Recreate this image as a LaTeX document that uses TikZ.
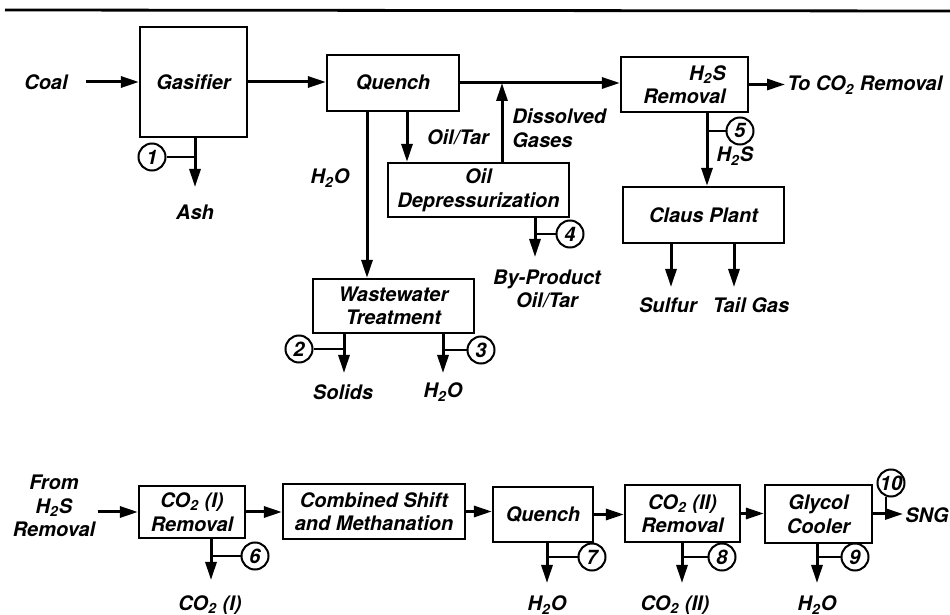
\documentclass[tikz,border=0pt]{standalone}
\usepackage{fontspec}
\setmainfont{TeX Gyre Heros}
\usetikzlibrary{arrows.meta,calc}

\begin{document}
\begin{tikzpicture}[x=0.5pt, y=-0.5pt, >={Triangle[length=9pt,width=5.5pt]},
  font=\fontsize{10}{11.8}\selectfont\bfseries\itshape,
  box/.style={draw, line width=1.1pt, inner sep=0pt, align=center},
  flow/.style={->, line width=1.5pt},
  tick/.style={line width=1pt},
  num/.style={draw, circle, line width=1pt, inner sep=0pt, minimum size=13.5pt,
    font=\fontsize{10}{10}\selectfont\bfseries\itshape},
  lbl/.style={inner sep=1pt, align=center}]
  \useasboundingbox (0,0) rectangle (950,615);
  \draw[line width=1.4pt] (5,10) -- (950,11);

  % --- fila superior: gasificacion ---
  \node[box, minimum width=53.5pt, minimum height=55pt] (gas) at (193.5,82) {Gasifier};
  \node[box, minimum width=66pt, minimum height=28pt] (qu) at (393,83) {Quench};
  \node[box, minimum width=63.5pt, minimum height=27.5pt, align=right] (hs) at (684.5,84.5) {H\textsubscript{2}S\\Removal};
  \node[box, minimum width=90.5pt, minimum height=27pt] (od) at (478.5,190) {Oil\\Depressurization};
  \node[box, minimum width=80.5pt, minimum height=27pt] (ww) at (393.5,306) {Wastewater\\Treatment};
  \node[box, minimum width=80.5pt, minimum height=28pt] (cl) at (703.5,215) {Claus Plant};

  \node[lbl] (coal) at (46,82) {Coal};
  \node[lbl, anchor=west] (toco) at (785,85) {To CO\textsubscript{2} Removal};

  \draw[flow, shorten <=8pt] (coal) -- (gas);
  \draw[flow] (gas.east) -- (gas.east -| qu.west);
  \draw[flow] (qu.east) -- (qu.east -| hs.west);
  \draw[flow] (hs.east) -- (hs.east -| toco.west);

  % salidas del quench
  \coordinate (xw) at (367,0);
  \coordinate (xo) at (407,0);
  \coordinate (xd) at (502,0);
  \draw[flow] (qu.south -| xw) -- (ww.north -| xw);
  \draw[flow] (qu.south -| xo) -- (od.north -| xo);
  \draw[flow] (od.north -| xd) -- (qu.east -| xd);
  \node[lbl] (qh2o) at (330,178) {H\textsubscript{2}O};
  \node[lbl] (oiltar) at (458,137) {Oil/Tar};
  \node[lbl, anchor=west, align=left] (dgas) at (510,128.5) {Dissolved\\Gases};

  % corriente 1
  \coordinate (e1) at (195,187);
  \draw[flow] (gas.south -| e1) -- (e1);
  \node[lbl] (ash) at (195,212) {Ash};
  \node[num] (n1) at (152,157) {1};
  \draw[tick] (n1) -- (n1 -| e1);

  % corrientes 2 y 3
  \coordinate (e2) at (344,373);
  \coordinate (e3) at (443,373);
  \draw[flow] (ww.south -| e2) -- (e2);
  \draw[flow] (ww.south -| e3) -- (e3);
  \node[lbl] (sol) at (343,392) {Solids};
  \node[lbl] (wwh2o) at (443,392) {H\textsubscript{2}O};
  \node[num] (n2) at (299,349) {2};
  \node[num] (n3) at (481,350) {3};
  \draw[tick] (n2) -- (n2 -| e2);
  \draw[tick] (n3) -- (n3 -| e3);

  % corriente 4
  \coordinate (e4) at (535,257);
  \draw[flow] (od.south -| e4) -- (e4);
  \node[lbl] (byp) at (547,289) {By-Product\\Oil/Tar};
  \node[num] (n4) at (570,234) {4};
  \draw[tick] (n4) -- (n4 -| e4);

  % corriente 5 y Claus
  \coordinate (xs) at (707,0);
  \draw[flow] (hs.south -| xs) -- (cl.north -| xs);
  \node[num] (n5) at (740,131) {5};
  \draw[tick] (n5) -- (n5 -| xs);
  \node[lbl] (h2s) at (735,156) {H\textsubscript{2}S};
  \coordinate (esul) at (671,287);
  \coordinate (etg) at (734,287);
  \draw[flow] (cl.south -| esul) -- (esul);
  \draw[flow] (cl.south -| etg) -- (etg);
  \node[lbl] (sul) at (668,305) {Sulfur};
  \node[lbl] (tg) at (751,305) {Tail Gas};

  % --- fila inferior: metanacion ---
  \node[lbl] (from) at (54,506) {From\\H\textsubscript{2}S\\Removal};
  \node[box, minimum width=53pt, minimum height=26pt] (c1) at (192,512) {CO\textsubscript{2} (I)\\Removal};
  \node[box, minimum width=91pt, minimum height=27.5pt] (cs) at (374,511.5) {Combined Shift\\and Methanation};
  \node[box, minimum width=50pt, minimum height=27.5pt] (q2) at (543,514.5) {Quench};
  \node[box, minimum width=57.5pt, minimum height=28.5pt] (c2) at (682.5,513.5) {CO\textsubscript{2} (II)\\Removal};
  \node[box, minimum width=53.5pt, minimum height=29pt] (gc) at (818.5,514) {Glycol\\Cooler};
  \node[lbl, anchor=west] (sng) at (903,515) {SNG};

  \draw[flow] (from.east |- c1.west) -- (c1.west);
  \draw[flow] (c1.east) -- (c1.east -| cs.west);
  \draw[flow] (cs.east) -- (cs.east -| q2.west);
  \draw[flow] (q2.east) -- (q2.east -| c2.west);
  \draw[flow] (c2.east) -- (c2.east -| gc.west);
  \draw[flow] (gc.east) -- (gc.east -| sng.west);

  % corrientes 6 a 10
  \coordinate (e6) at (211,580);
  \coordinate (e7) at (547,583);
  \coordinate (e8) at (682,583);
  \coordinate (e9) at (817,583);
  \draw[flow] (c1.south -| e6) -- (e6);
  \draw[flow] (q2.south -| e7) -- (e7);
  \draw[flow] (c2.south -| e8) -- (e8);
  \draw[flow] (gc.south -| e9) -- (e9);
  \node[lbl] (co2a) at (210,605) {CO\textsubscript{2} (I)};
  \node[lbl] (q2h2o) at (547,605) {H\textsubscript{2}O};
  \node[lbl] (co2b) at (675,605) {CO\textsubscript{2} (II)};
  \node[lbl] (gch2o) at (817,605) {H\textsubscript{2}O};
  \node[num] (n6) at (255,556) {6};
  \node[num] (n7) at (592,557) {7};
  \node[num] (n8) at (722,557) {8};
  \node[num] (n9) at (855,557) {9};
  \draw[tick] (n6) -- (n6 -| e6);
  \draw[tick] (n7) -- (n7 -| e7);
  \draw[tick] (n8) -- (n8 -| e8);
  \draw[tick] (n9) -- (n9 -| e9);
  \node[num] (n10) at (891,483) {10};
  \draw[tick] (n10.250) -- (n10.250 |- gc.east);
\end{tikzpicture}
\end{document}
